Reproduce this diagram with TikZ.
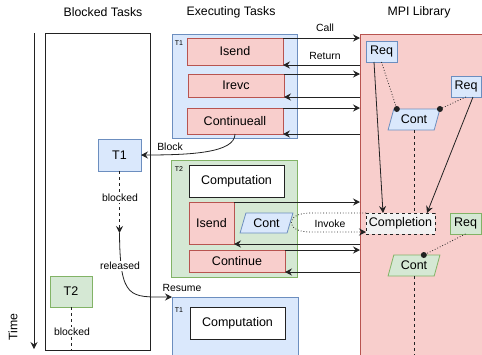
\documentclass[tikz,border=0pt]{standalone}
\usepackage{fontspec}
\setmainfont{Liberation Sans}
\usetikzlibrary{arrows.meta,shapes.geometric}
\definecolor{bluef}{HTML}{DAE8FC}
\definecolor{bluel}{HTML}{6C8EBF}
\definecolor{redf}{HTML}{F8CECC}
\definecolor{redl}{HTML}{B85450}
\definecolor{greenf}{HTML}{D5E8D4}
\definecolor{greenl}{HTML}{82B366}
\definecolor{grayf}{HTML}{F2F2F2}
\definecolor{ink}{HTML}{222222}
\tikzset{
  sz/.style 2 args={minimum width=#1, minimum height=#2},
  box/.style={draw, inner sep=0pt, outer sep=0pt, line width=0.8pt, font=\fontsize{12.5}{14}\selectfont},
  bluebox/.style={box, fill=bluef, draw=bluel},
  redbox/.style={box, fill=redf, draw=redl},
  greenbox/.style={box, fill=greenf, draw=greenl},
  whitebox/.style={box, fill=white, draw=ink},
  para/.style={box, trapezium, trapezium left angle=67, trapezium right angle=113, trapezium stretches=true},
  title/.style={font=\fontsize{12.3}{14}\selectfont, inner sep=0pt},
  lbl/.style={font=\fontsize{10.4}{12}\selectfont, inner sep=1pt},
  tag/.style={font=\fontsize{7}{8}\selectfont, inner sep=0pt},
  conn/.style={line width=0.8pt, draw=ink, -{Stealth[length=7pt,width=7pt,inset=2.5pt]}},
  plain/.style={line width=0.8pt, draw=ink},
}
\begin{document}
\begin{tikzpicture}[x=1pt,y=-1pt]
\useasboundingbox (0,0) rectangle (482,354);
% titles
\node[title] (tBlocked) at (103,12) {Blocked Tasks};
\node[title] (tExec) at (231,12) {Executing Tasks};
\node[title] (tMPI) at (419,12) {MPI Library};
% time axis
\coordinate (time0) at (34,33);
\coordinate (time1) at (34,349);
\draw[conn] (time0) -- (time1);
\node[title, rotate=90] (timeLbl) at (13,327) {Time};
% panels
\node[box, draw=ink, fill=white, sz={105pt}{317pt}] (blockedPanel) at (97.5,191.5) {};
\node[redbox, sz={124pt}{322pt}] (mpiPanel) at (422,195) {};
% T1 top container
\node[bluebox, sz={125pt}{104pt}] (T1a) at (234.5,86) {};
\node[tag] (tagA) at (179,43) {T1};
\node[redbox, sz={96pt}{27pt}] (Isend1) at (235,51.5) {Isend};
\node[redbox, sz={96pt}{23pt}] (Irevc) at (236,85.5) {Irevc};
\node[redbox, sz={96pt}{26pt}] (Contall) at (235,121) {Continueall};
% T2 container
\node[greenbox, sz={126pt}{117pt}] (T2a) at (234,218.5) {};
\node[tag] (tagB) at (179,169) {T2};
\node[whitebox, sz={95pt}{32pt}] (Comp2) at (236.5,181) {Computation};
\node[redbox, sz={45pt}{42pt}] (Isend2) at (211.5,223) {Isend};
\node[para, fill=bluef, draw=bluel, sz={53pt}{20pt}] (ContT2) at (266.5,223) {Cont};
\node[redbox, sz={96pt}{22pt}] (Cont) at (237,261) {Continue};
% T1 bottom container
\node[bluebox, sz={126pt}{59pt}] (T1c) at (235,326.5) {};
\node[tag] (tagC) at (179,310) {T1};
\node[whitebox, sz={95pt}{32pt}] (Comp3) at (237.5,323) {Computation};
% blocked tasks
\node[bluebox, sz={43pt}{32pt}] (T1b) at (119.5,155) {T1};
\node[greenbox, sz={42pt}{31pt}] (T2b) at (71,291.5) {T2};
% MPI internals
\node[bluebox, sz={31pt}{21pt}] (Req1) at (381.5,51.5) {Req};
\node[bluebox, sz={30pt}{21pt}] (Req2) at (466,86.5) {Req};
\node[para, fill=bluef, draw=bluel, sz={52pt}{21pt}] (Cont1) at (414,119.5) {Cont};
\node[box, fill=grayf, draw=ink, dashed, sz={69pt}{21pt}] (Compl) at (400.5,223.5) {Completion};
\node[greenbox, sz={31pt}{21pt}] (Req3) at (465.5,223.5) {Req};
\node[para, fill=greenf, draw=greenl, sz={52pt}{21pt}] (Cont2) at (414,265.5) {Cont};
% calls and returns
\draw[conn] (Isend1.north east) -- (mpiPanel.west |- Isend1.north east);
\draw[conn] (mpiPanel.west |- Isend1.south east) -- (Isend1.south east);
\draw[conn] (Irevc.north east) -- (mpiPanel.west |- Irevc.north east);
\draw[conn] (mpiPanel.west |- Irevc.south east) -- (Irevc.south east);
\draw[conn] (Contall.north east) -- (mpiPanel.west |- Contall.north east);
\draw[conn] (mpiPanel.west |- Contall.south east) -- (Contall.south east);
\draw[conn] (Isend2.north east) -- (mpiPanel.west |- Isend2.north east);
\draw[conn] (mpiPanel.west |- Isend2.south east) -- (Isend2.south east);
\draw[conn] (Cont.north east) -- (mpiPanel.west |- Cont.north east);
\draw[conn] (mpiPanel.west |- Cont.south east) -- (Cont.south east);
\node[lbl] (callLbl) at (325,28) {Call};
\node[lbl] (retLbl) at (325,56) {Return};
% block / release
\draw[conn] (Contall.south) .. controls (235,153) and (190,155) .. (T1b.east);
\node[lbl] (blockLbl) at (170,147) {Block};
\coordinate (blkEnd) at (119.5,233);
\draw[conn, dashed] (T1b.south) -- (blkEnd);
\node[lbl, fill=white] (blkLbl) at (120,198) {blocked};
\draw[conn] (blkEnd) .. controls (120,300) and (130,297) .. (T1c.north west);
\node[lbl, fill=white] (relLbl) at (120,266) {released};
\node[lbl] (resLbl) at (182,288) {Resume};
\coordinate (t2End) at (71,350);
\draw[plain, dashed] (T2b.south) -- (t2End);
\node[lbl, fill=white] (blk2Lbl) at (72,332) {blocked};
% MPI connectors
\draw[conn] ([xshift=-7.5pt]Req1.south) -- ([xshift=-17.5pt]Compl.north);
\draw[conn] ([xshift=7pt]Req2.south) -- ([xshift=26.5pt]Compl.north);
\coordinate (d1) at ([xshift=3pt]Cont1.top left corner);
\coordinate (d2) at (Cont1.top right corner);
\coordinate (d3) at ([xshift=30pt]Cont2.top left corner);
\draw[plain, dotted] (Req1.south) -- (d1);
\draw[plain, dotted] (Req2.south) -- (d2);
\draw[plain, dotted] (Req3.south) -- (d3);
\fill[ink] (d1) circle (3pt) (d2) circle (3pt) (d3) circle (3pt);
\draw[plain, dashed] (Cont1.south) -- (Cont1.south |- Compl.north);
\draw[plain, dashed] (Cont2.south) -- (Cont2.south |- mpiPanel.south);
% invoke
\draw[conn, dotted] (Compl.north west) -- (310,213) .. controls (285,213) and (285,232) .. (310,232) -- ([yshift=-8.5pt]Compl.west);
\node[lbl] (invLbl) at (330,224) {Invoke};
\end{tikzpicture}
\end{document}
